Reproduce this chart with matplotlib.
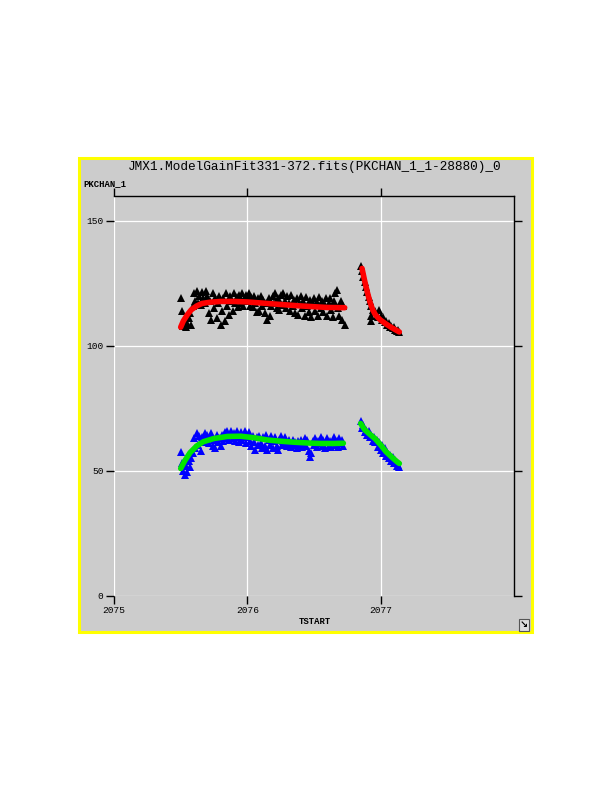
import numpy as np
import matplotlib
matplotlib.use("Agg")
from matplotlib import pyplot as plt
from matplotlib.patches import Rectangle

# Dati: tempi (TSTART) e PKCHAN_1
t_black_1 = [2075.50, 2075.51, 2075.52, 2075.53, 2075.54, 2075.55, 2075.56, 2075.57, 2075.58, 2075.59,
             2075.60, 2075.61, 2075.62, 2075.63, 2075.64, 2075.65, 2075.66, 2075.67, 2075.68, 2075.69,
             2075.70, 2075.71, 2075.72, 2075.73, 2075.74, 2075.75, 2075.76, 2075.77, 2075.78, 2075.79,
             2075.80, 2075.81, 2075.82, 2075.83, 2075.84, 2075.85, 2075.86, 2075.87, 2075.88, 2075.89,
             2075.90, 2075.91, 2075.92, 2075.93, 2075.94, 2075.95, 2075.96, 2075.97, 2075.98, 2075.99,
             2076.00, 2076.01, 2076.02, 2076.03, 2076.04, 2076.05, 2076.06, 2076.07, 2076.08, 2076.09,
             2076.10, 2076.11, 2076.12, 2076.13, 2076.14, 2076.15, 2076.16, 2076.17, 2076.18, 2076.19,
             2076.20, 2076.21, 2076.22, 2076.23, 2076.24, 2076.25, 2076.26, 2076.27, 2076.28, 2076.29,
             2076.30, 2076.31, 2076.32, 2076.33, 2076.34, 2076.35, 2076.36, 2076.37, 2076.38, 2076.39,
             2076.40, 2076.41, 2076.42, 2076.43, 2076.44, 2076.45, 2076.46, 2076.47, 2076.48, 2076.49,
             2076.50, 2076.51, 2076.52, 2076.53, 2076.54, 2076.55, 2076.56, 2076.57, 2076.58, 2076.59,
             2076.60, 2076.61, 2076.62, 2076.63, 2076.64, 2076.65, 2076.66, 2076.67, 2076.68, 2076.69,
             2076.70, 2076.71, 2076.72, 2076.73]
y_black_1 = [119, 114, 108, 110, 107.5, 109, 111, 113, 108.5, 116,
             121, 118, 122, 117, 120, 116.5, 121.5, 119, 117, 122,
             120, 113, 118, 110.5, 121, 115, 119, 111, 117, 120,
             108.5, 114, 119, 110, 121, 116, 112.5, 120, 118, 114,
             121, 117, 119.5, 115.5, 120.5, 117, 121, 116, 119, 120.5,
             118, 121, 116, 119.5, 115.5, 120, 117, 113.5, 119, 114,
             120, 116, 118.5, 113, 117, 110.5, 119, 112, 116, 120,
             117, 121, 115, 119, 114.5, 120.5, 116.5, 121, 118, 115,
             120, 117, 114, 120.5, 116, 118.5, 113, 119, 112.5, 117,
             120, 115, 118, 112, 119.5, 116, 113.5, 118.5, 111.5, 117,
             119, 114, 117.5, 112, 119.5, 115, 118, 113.5, 116.5, 119,
             112, 117, 119, 114.5, 111.5, 118, 121, 122.5, 115, 112,
             118, 110.5, 116, 108.5]

t_black_2 = [2076.85, 2076.86, 2076.87, 2076.88, 2076.89, 2076.90, 2076.91, 2076.92, 2076.93, 2076.94,
             2076.95, 2076.96, 2076.97, 2076.98, 2076.99, 2077.00, 2077.01, 2077.02, 2077.03, 2077.04,
             2077.05, 2077.06, 2077.07, 2077.08, 2077.09, 2077.10, 2077.11, 2077.12, 2077.13, 2077.14,
             2076.925, 2076.93]
y_black_2 = [132, 130, 127.5, 125.5, 123.5, 121.5, 119.5, 118, 116, 114.5,
             113.5, 114, 112, 111.5, 114.5, 112, 110.5, 111.5, 109.5, 110,
             108.5, 109, 107.5, 108, 107, 107.5, 106.5, 106, 106.5, 105.5,
             112, 110]

t_blue_1 = t_black_1[:123]
y_blue_1 = [57.5, 53, 50, 48.5, 52, 49.5, 54, 51.5, 55, 57,
            63, 59, 65, 60.5, 64, 58, 63.5, 61.5, 65, 62,
            64.5, 61, 63.5, 65, 60, 62.5, 59, 64.5, 61.5, 63,
            60, 64.5, 62, 65.5, 63, 66, 62.5, 64.5, 66, 63,
            65, 62, 66, 63.5, 61.5, 65.5, 62.5, 64, 66, 61,
            63.5, 65.5, 62, 60, 64, 61.5, 58.5, 63.5, 60.5, 64,
            61, 59, 63.5, 60, 64.5, 58.5, 62.5, 60.5, 64, 59,
            62, 63.5, 60, 58.5, 62.5, 64, 60.5, 62, 63.5, 61,
            60, 62.5, 61, 59.5, 62.5, 60.5, 61.5, 59, 62, 60.5,
            62.5, 59.5, 61, 63, 60, 62.5, 58, 55.5, 57, 62,
            60.5, 63, 59.5, 62, 61, 63.5, 60, 62.5, 59, 61.5,
            63, 60, 62, 59.5, 61.5, 63.5, 60.5, 62, 59.5, 63,
            61, 62.5, 60]

t_blue_2 = t_black_2[:30]
y_blue_2 = [70, 67, 68.5, 65.5, 66.5, 64.5, 66, 63.5, 64.5, 62,
            63.5, 61.5, 62.5, 59.5, 61.5, 58.5, 60.5, 57, 59, 56,
            57.5, 55, 56.5, 54, 55.5, 53, 54.5, 52, 52.5, 51.5]

# Curve del fit
t_red_1 = [2075.50, 2075.52, 2075.55, 2075.58, 2075.62, 2075.66, 2075.72, 2075.80, 2075.90,
           2076.00, 2076.10, 2076.20, 2076.30, 2076.40, 2076.50, 2076.60, 2076.73]
y_red_1 = [107.5, 110, 112.5, 114.5, 116, 117, 117.5, 117.8, 117.8,
           117.6, 117.2, 116.8, 116.4, 116, 115.7, 115.4, 115.3]
t_red_2 = [2076.86, 2076.88, 2076.90, 2076.92, 2076.94, 2076.96, 2076.98, 2077.00,
           2077.04, 2077.08, 2077.12, 2077.14]
y_red_2 = [131, 126, 121.5, 117.5, 114.5, 112.5, 111.3, 110.3, 108.8, 107.4, 106.2, 105.6]

t_green_1 = [2075.50, 2075.53, 2075.57, 2075.62, 2075.67, 2075.75, 2075.85, 2075.95, 2076.05,
             2076.15, 2076.25, 2076.35, 2076.45, 2076.55, 2076.65, 2076.72]
y_green_1 = [51, 54, 57.3, 60, 61.7, 63, 63.8, 63.9, 63.3, 62.4, 61.9, 61.5, 61.2, 61.0, 61.0, 61.1]
t_green_2 = [2076.85, 2076.88, 2076.92, 2076.96, 2077.00, 2077.04, 2077.08, 2077.12, 2077.14]
y_green_2 = [69, 66.5, 64.6, 62.8, 60.4, 57.7, 55.7, 53.8, 53]

x_ticks = [2075, 2076, 2077]
y_ticks = [0, 50, 100, 150]

mono = "Liberation Mono"
grigio = "#cccccc"

fig = plt.figure(figsize=(6.12, 7.92), dpi=100)
fig.patch.set_facecolor("white")

# Cornice gialla
fig.patches.append(Rectangle((0.1290, 0.2020), 0.7405, 0.5985, transform=fig.transFigure,
                             facecolor=grigio, edgecolor="#ffff00", linewidth=2.2, zorder=-1))

ax = fig.add_axes([0.1863, 0.2475, 0.6536, 0.5051])
ax.set_zorder(2)
ax.set_facecolor(grigio)

ax.plot(t_black_1, y_black_1, "^", color="black", ms=5.2, mew=0, zorder=3)
ax.plot(t_black_2, y_black_2, "^", color="black", ms=5.2, mew=0, zorder=3)
ax.plot(t_blue_1, y_blue_1, "^", color="#0000ff", ms=5.2, mew=0, zorder=3)
ax.plot(t_blue_2, y_blue_2, "^", color="#0000ff", ms=5.2, mew=0, zorder=3)

ax.plot(t_red_1, y_red_1, "-", color="#ff0000", lw=4, solid_capstyle="round", zorder=4)
ax.plot(t_red_2, y_red_2, "-", color="#ff0000", lw=4, solid_capstyle="round", zorder=4)
ax.plot(t_green_1, y_green_1, "-", color="#00e600", lw=4, solid_capstyle="round", zorder=4)
ax.plot(t_green_2, y_green_2, "-", color="#00e600", lw=4, solid_capstyle="round", zorder=4)

ax.set_xlim(2075, 2078)
ax.set_ylim(0, 160)
ax.set_xticks(x_ticks)
ax.set_yticks(y_ticks)
ax.set_xticklabels([str(v) for v in x_ticks], fontfamily=mono, fontsize=6.8)
ax.set_yticklabels([str(v) for v in y_ticks], fontfamily=mono, fontsize=6.8)
ax.grid(True, color="white", lw=0.9, zorder=1)
ax.set_axisbelow(True)

ax.spines["left"].set_visible(False)
ax.spines["bottom"].set_visible(False)
ax.spines["top"].set_linewidth(1)
ax.spines["right"].set_linewidth(1)
ax.tick_params(direction="out", length=6, width=1, top=True, right=True,
               labeltop=False, labelright=False, pad=1.5)

# Testi
fig.text(315 / 612, 1 - 167 / 792, "JMX1.ModelGainFit331-372.fits(PKCHAN_1_1-28880)_0",
         family=mono, fontsize=9.2, ha="center", va="center")
fig.text(83 / 612, 1 - 184 / 792, "PKCHAN_1", family=mono, fontsize=6.4,
         fontweight="bold", ha="left", va="center")
fig.text(315 / 612, 1 - 622 / 792, "TSTART", family=mono, fontsize=6.4,
         fontweight="bold", ha="center", va="center")
fig.text(524 / 612, 1 - 625 / 792, "\u2198", family="DejaVu Sans", fontsize=7,
         fontweight="bold", ha="center", va="center",
         bbox=dict(boxstyle="square,pad=0.1", facecolor="#dddddd", edgecolor="#555555", lw=0.8))

plt.savefig("out.png", dpi=100, facecolor=fig.get_facecolor())
